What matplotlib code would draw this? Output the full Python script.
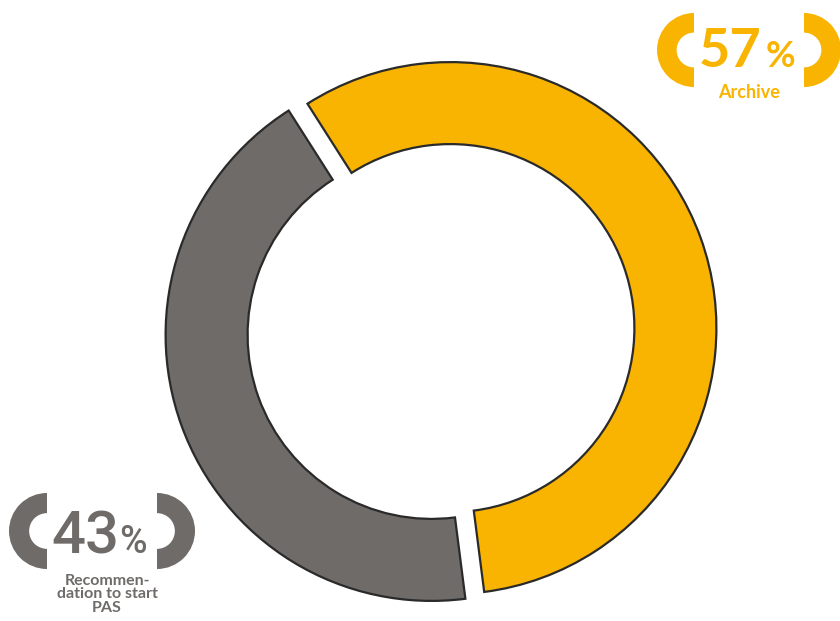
import matplotlib
matplotlib.use("Agg")
import matplotlib.pyplot as plt
from matplotlib.patches import Wedge

# data
labels = ["Archive", "Recommen-\ndation to start\nPAS"]
shares = [57, 43]
colors = ["#F8B400", "#6F6B68"]

plt.rcParams['font.family'] = ['Lato', 'DejaVu Sans']

fig = plt.figure(figsize=(8.4, 6.21), dpi=100)
ax = fig.add_axes([0, 0, 1, 1])

# donut, axis units are pixels (y up)
ax.pie(shares, colors=colors, radius=266, center=(441, 289.5),
       startangle=122.5, counterclock=False, explode=[10, 10],
       wedgeprops=dict(width=82, edgecolor="#2a2a2a", linewidth=1.6))

ax.set_xlim(0, 840)
ax.set_ylim(0, 621)
ax.set_aspect('equal')
ax.axis('off')


def brackets(x_left, x_right, yc, r, color):
    ax.add_patch(Wedge((x_left, yc), r, 90, 270, width=r * 0.53, color=color, lw=0))
    ax.add_patch(Wedge((x_right, yc), r, -90, 90, width=r * 0.53, color=color, lw=0))


# Archive label (top right)
brackets(694, 804, 571, 37, colors[0])
ax.text(699, 554, f"{shares[0]}", color=colors[0], fontsize=39,
        fontweight='bold', ha='left', va='baseline')
ax.text(766, 554, "%", color=colors[0], fontsize=26,
        fontweight='bold', ha='left', va='baseline')
ax.text(749, 523, labels[0], color=colors[0], fontsize=13,
        fontweight='bold', ha='center', va='baseline')

# PAS label (bottom left)
brackets(47, 157, 90, 38, colors[1])
ax.text(51, 68, f"{shares[1]}", color=colors[1], fontsize=43,
        family=['Roboto', 'DejaVu Sans'], fontweight='medium',
        ha='left', va='baseline')
ax.text(119, 68, "%", color=colors[1], fontsize=27,
        family=['Roboto', 'DejaVu Sans'], fontweight='medium',
        ha='left', va='baseline')
ax.text(107, 47, labels[1], color=colors[1], fontsize=11.5,
        fontweight='bold', ha='center', va='top', linespacing=0.95)

fig.savefig("out.png", dpi=100)
